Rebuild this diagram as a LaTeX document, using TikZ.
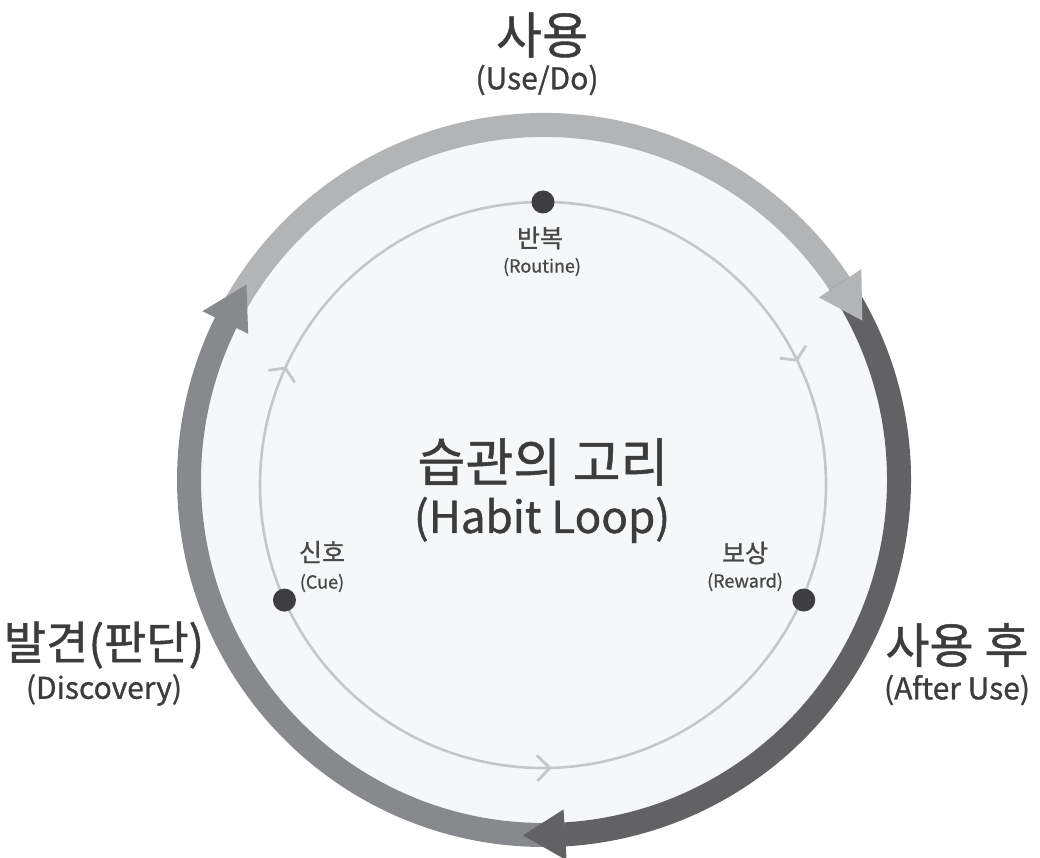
\documentclass[tikz,border=0pt]{standalone}
\usepackage{fontspec}
\setmainfont[FakeBold=0.9, AutoFakeBold=0.9]{Noto Sans CJK KR}
\definecolor{ringA}{HTML}{B3B4B6}
\definecolor{ringB}{HTML}{626265}
\definecolor{ringC}{HTML}{88898C}
\definecolor{discbg}{HTML}{F6F7F8}
\definecolor{innerc}{HTML}{C6C7C9}
\definecolor{dotc}{HTML}{3E3E41}
\definecolor{txt}{HTML}{3C3C3C}
\definecolor{txtsmall}{HTML}{484848}
\tikzset{
  ringseg/.style={line width=24pt},
  chev/.style={innerc, line width=2.8pt},
  dotn/.style={circle, fill=dotc, minimum size=23pt, inner sep=0pt},
  bigkr/.style={text=txt, inner sep=0pt, font=\bfseries\fontsize{50}{56}\selectfont},
  bigen/.style={text=txt, inner sep=0pt, font=\bfseries\fontsize{30}{34}\selectfont},
  smallkr/.style={text=txtsmall, inner sep=0pt, font=\bfseries\fontsize{25}{28}\selectfont},
  smallen/.style={text=txtsmall, inner sep=0pt, font=\bfseries\fontsize{18}{20}\selectfont},
}
\begin{document}
\begin{tikzpicture}[x=1pt,y=1pt]
\useasboundingbox (0,0) rectangle (1040,857);
\fill[white] (0,0) rectangle (1040,857);
\coordinate (O) at (544,377);
\coordinate (I) at (543,372);
% disc background
\fill[discbg] (O) circle[radius=343pt];
% outer ring segments
\begin{scope}[shift={(O)}]
  \draw[ringseg, ringA] (153.7:355pt) arc[start angle=153.7, end angle=32.2, radius=355pt];
  \draw[ringseg, ringB] (33.6:355pt) arc[start angle=33.6, end angle=-88, radius=355pt];
  \draw[ringseg, ringC] (273.4:355pt) arc[start angle=273.4, end angle=152.3, radius=355pt];
  % arrowheads
  \fill[ringA] (33.6:381pt) -- (26.6:356pt) -- (33.6:330pt) -- cycle;
  \fill[ringB] (-86.6:381pt) -- (-93.4:356pt) -- (-86.6:330pt) -- cycle;
  \fill[ringC] (153.7:381pt) -- (146.7:356pt) -- (153.7:330pt) -- cycle;
\end{scope}
% inner loop
\begin{scope}[shift={(I)}]
  \draw[innerc, line width=2.6pt] (0,0) circle[radius=283pt];
  \draw[chev] (155.6:283pt) ++(-56.4:17pt) -- (155.6:283pt) -- ++(-172.4:17pt);
  \draw[chev] (26.2:283pt) ++(58.2:17pt) -- (26.2:283pt) -- ++(174.2:17pt);
  \draw[chev] (-88.6:283pt) ++(136.4:18pt) -- (-88.6:283pt) -- ++(226.4:18pt);
  \node[dotn] (routineDot) at (90:283pt) {};
  \node[dotn] (cueDot) at (204:283pt) {};
  \node[dotn] (rewardDot) at (-23.8:285pt) {};
\end{scope}
% labels
\node[bigkr] (use) at (542,822) {사용};
\node[bigen] (useEn) at (537,777) {(Use/Do)};
\node[smallkr] (routine) at (540,619) {반복};
\node[smallen] (routineEn) at (542,590) {(Routine)};
\node[text=txt, inner sep=0pt, font=\bfseries\fontsize{52}{58}\selectfont] (center) at (543,395) {습관의 고리};
\node[text=txt, inner sep=0pt, font=\bfseries\fontsize{44}{50}\selectfont] (centerEn) at (542,337) {(Habit Loop)};
\node[smallkr] (cue) at (322,305) {신호};
\node[smallen] (cueEn) at (322,274) {(Cue)};
\node[smallkr] (reward) at (745,304) {보상};
\node[smallen] (rewardEn) at (745,275) {(Reward)};
\node[bigkr, font=\bfseries\fontsize{46}{52}\selectfont] (disc) at (104,212) {발견(판단)};
\node[bigen] (discEn) at (104,167) {(Discovery)};
\node[bigkr, font=\bfseries\fontsize{48}{54}\selectfont] (after) at (957,212) {사용 후};
\node[bigen] (afterEn) at (957,167) {(After Use)};
\end{tikzpicture}
\end{document}
